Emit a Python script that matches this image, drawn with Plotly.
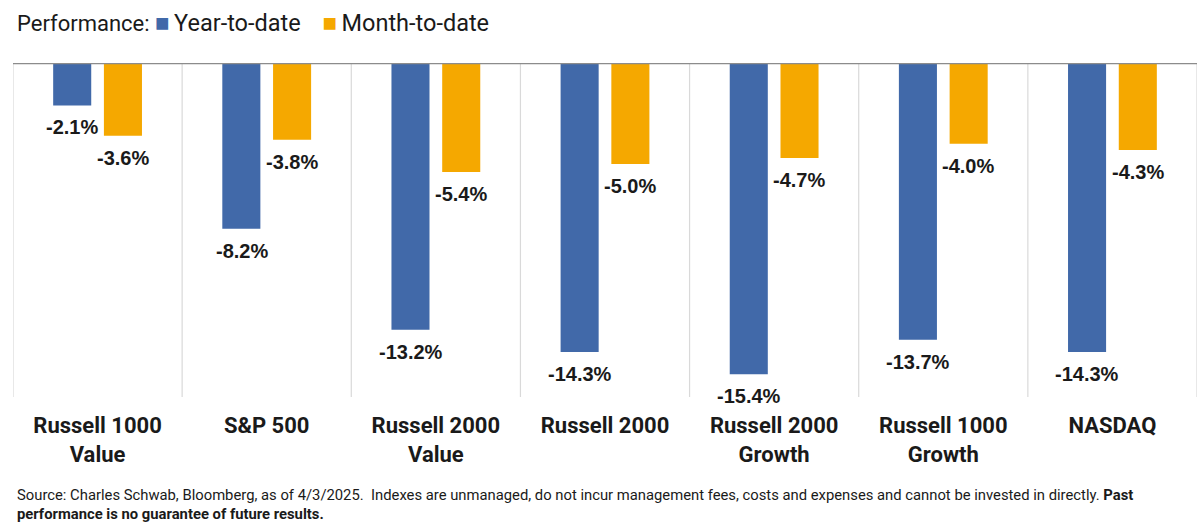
import plotly.graph_objects as go

categories = ["Russell 1000<br>Value", "S&P 500", "Russell 2000<br>Value", "Russell 2000",
              "Russell 2000<br>Growth", "Russell 1000<br>Growth", "NASDAQ"]
ytd = [-2.1, -8.2, -13.2, -14.3, -15.4, -13.7, -14.3]
mtd = [-3.6, -3.8, -5.4, -5.0, -4.7, -4.0, -4.3]
series_names = ["Year-to-date", "Month-to-date"]

BLUE = "#4169A9"
ORANGE = "#F5A800"
TXT = "#1a1a1a"
FONT = "Roboto"

fig = go.Figure()
fig.add_trace(go.Bar(x=list(range(len(categories))), y=ytd, name=series_names[0],
                     marker=dict(color=BLUE, line=dict(width=0))))
fig.add_trace(go.Bar(x=list(range(len(categories))), y=mtd, name=series_names[1],
                     marker=dict(color=ORANGE, line=dict(width=0))))

off = 0.149
for i, (a, b) in enumerate(zip(ytd, mtd)):
    for xv, v in ((i - off, a), (i + off, b)):
        fig.add_annotation(x=xv, y=v, text=f"{v:.1f}%", showarrow=False,
                           yshift=-22, xanchor="center", yanchor="middle",
                           font=dict(family="Liberation Sans", size=20, color=TXT, weight="bold"))

# zero line at top
fig.add_shape(type="line", xref="paper", yref="y", x0=0, x1=1, y0=0, y1=0,
              line=dict(color="#8c8c8c", width=2.5))

# legend as rich text
sq = "<span style='color:{c};font-size:24px'>■</span>"
nm = "<span style='font-size:23.5px'>{t}</span>"
fig.add_annotation(xref="paper", yref="paper", x=0, xshift=2, y=1, yshift=40,
                   xanchor="left", yanchor="middle", showarrow=False,
                   text=("Performance: " + sq.format(c=BLUE) + "&#8201;" + nm.format(t=series_names[0])
                         + "&nbsp;&nbsp;&nbsp;&nbsp;" + sq.format(c=ORANGE) + "&#8201;" + nm.format(t=series_names[1])),
                   font=dict(family=FONT, size=22, color=TXT))

# footnote
fig.add_annotation(xref="paper", yref="paper", x=0, xshift=2, y=0, yshift=-87,
                   xanchor="left", yanchor="top", showarrow=False, align="left",
                   text=("Source: Charles Schwab, Bloomberg, as of 4/3/2025.&nbsp;&nbsp;Indexes are unmanaged, do not incur "
                         "management fees, costs and expenses and cannot be invested in directly. <b>Past</b><br>"
                         "<b>performance is no guarantee of future results.</b>"),
                   font=dict(family=FONT, size=14.8, color=TXT))

fig.update_layout(
    width=1200, height=529,
    margin=dict(l=13, r=3, t=63, b=132),
    paper_bgcolor="white", plot_bgcolor="white",
    showlegend=False,
    barmode="group", bargap=0.40, bargroupgap=0.25,
    font=dict(family=FONT, color=TXT),
    xaxis=dict(tickmode="array", tickvals=list(range(len(categories))), ticktext=categories,
               range=[-0.5, len(categories) - 0.5],
               showgrid=False, showline=False, zeroline=False, ticks="",
               ticklabelstandoff=13,
               tickfont=dict(family=FONT, size=22, color=TXT, weight="bold")),
    yaxis=dict(range=[-16.53, 0], showgrid=False, zeroline=False, showline=False,
               showticklabels=False, ticks=""),
)

# category separators
for i in range(len(categories) + 1):
    fig.add_shape(type="line", xref="x", yref="paper", x0=i - 0.5, x1=i - 0.5, y0=0, y1=1,
                  line=dict(color="#d9d9d9", width=1.2), layer="below")

fig.write_html("out.html", config={"displayModeBar": False},
               post_script="document.body.style.margin='0';document.body.style.overflow='hidden';")
